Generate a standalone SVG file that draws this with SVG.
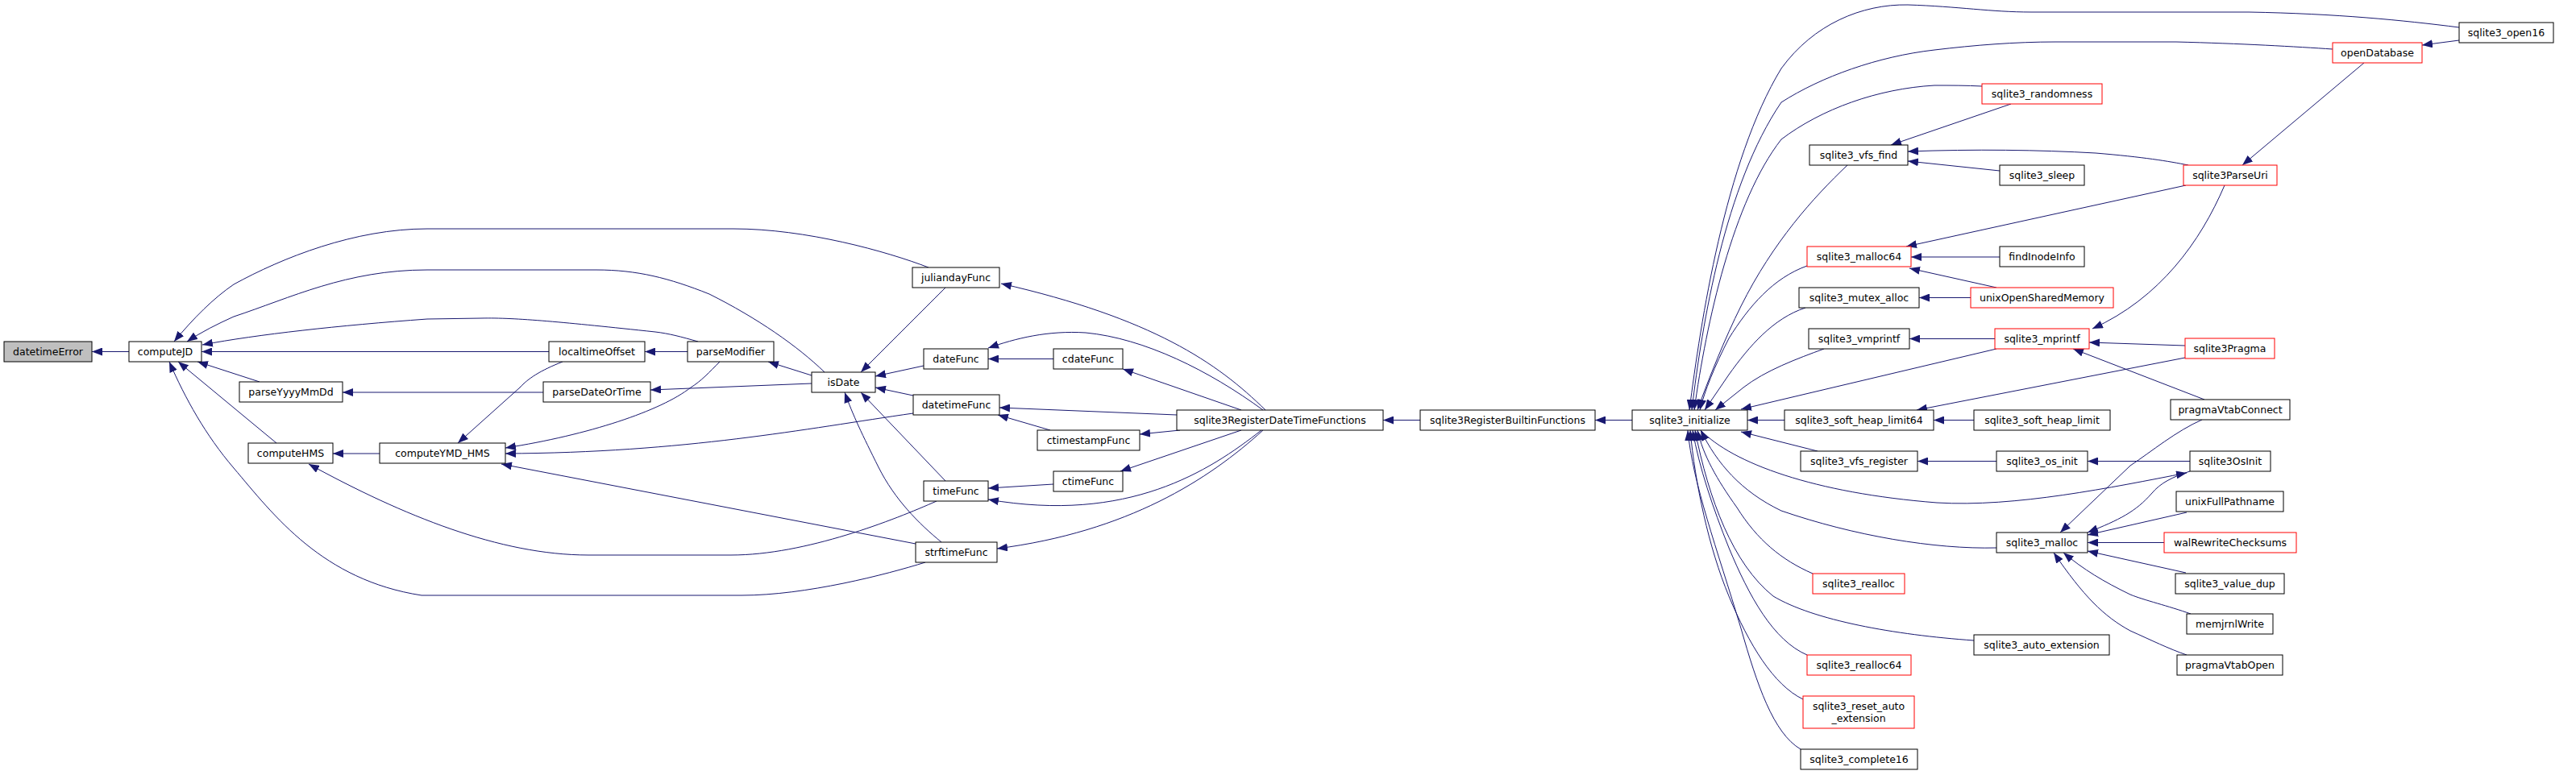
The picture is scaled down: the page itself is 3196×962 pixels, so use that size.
<svg xmlns="http://www.w3.org/2000/svg" width="3196" height="962" viewBox="0 0 3196 962">
<style>
.n rect{fill:#fff;stroke:#000;stroke-width:1}
.n.r rect{stroke:#ff0000}
.n.root rect{fill:#bfbfbf}
.n text{font-family:"DejaVu Sans",sans-serif;font-size:12.5px;fill:#000;text-anchor:middle}
#edges path{fill:none;stroke:#191970;stroke-width:1;marker-end:url(#ah)}
</style>
<defs>
<marker id="ah" markerUnits="userSpaceOnUse" markerWidth="13" markerHeight="10" refX="13" refY="5" orient="auto" viewBox="0 0 13 10"><path d="M0,0 L13,5 L0,10 z" fill="#191970"/></marker>
</defs>
<rect width="3196" height="962" fill="#fff"/>
<g id="edges">
<path d="M160,436.5 L114,436.5"/>
<path d="M1152,332 C1100,312 1000,284 910,284 L530,284 C440,284 350,320 290,353 C265,370 240,395 216,424"/>
<path d="M1023,462 C990,430 940,395 880,365 C830,345 790,335 740,335 L530,335 C430,335 360,370 290,393 C270,402 250,412 232,424"/>
<path d="M866,424 C845,418 830,414 813,412 C700,400 640,394 597,395 L530,396 C420,404 320,415 251,428"/>
<path d="M681,436.5 L250,436.5"/>
<path d="M322,474 L245,449"/>
<path d="M343,550 L221,449"/>
<path d="M1148,698 C1100,713 1000,739 920,739 L523,739 C400,720 340,640 290,581 C255,540 230,495 210,449"/>
<path d="M471,563 L413,563"/>
<path d="M1162,622 C1110,645 1000,689 907,689 L730,689 C620,689 500,640 383,576"/>
<path d="M698,449 C670,460 655,470 645,481 L568,550"/>
<path d="M893,449 C880,462 870,473 857,481 C820,510 730,540 627,556"/>
<path d="M1133,513 C1000,532 850,562 627,563"/>
<path d="M1136,675 L622,576"/>
<path d="M674,487 L425,487"/>
<path d="M853,436.5 L800,436.5"/>
<path d="M1007,466 L953,449"/>
<path d="M1007,476 L807,484"/>
<path d="M1173,357 L1068,462"/>
<path d="M1146,454 L1086,467"/>
<path d="M1133,491 L1086,481"/>
<path d="M1173,597 L1068,487"/>
<path d="M1168,673 C1140,650 1110,620 1090,580 C1070,540 1058,515 1048,487"/>
<path d="M1307,445.5 L1226,445.5"/>
<path d="M1567,509 C1500,460 1420,420 1347,413 C1300,410 1260,420 1226,432"/>
<path d="M1570,509 C1510,450 1430,395 1242,352"/>
<path d="M1540,509 L1393,458"/>
<path d="M1460,515 L1240,506"/>
<path d="M1303,534 L1238,515"/>
<path d="M1464,534 L1414,539"/>
<path d="M1540,534 L1390,585"/>
<path d="M1307,601 L1226,606"/>
<path d="M1565,534 C1500,585 1400,650 1226,620"/>
<path d="M1567,534 C1500,595 1400,660 1237,681"/>
<path d="M1762,521.5 L1716,521.5"/>
<path d="M2025,521.5 L1979,521.5"/>
<path d="M3051,34 C2980,25 2900,17 2790,15 L2520,15 C2470,15 2430,8 2367,6 C2310,5 2250,30 2210,85 C2140,200 2110,400 2096,509"/>
<path d="M2894,61 C2850,58 2780,54 2700,52 L2550,52 C2500,52 2450,56 2400,62 C2330,70 2260,95 2210,127 C2140,230 2112,400 2099,509"/>
<path d="M2459,107 C2440,106 2420,106 2400,106 C2330,110 2260,135 2210,173 C2150,250 2117,400 2102,509"/>
<path d="M2292,205 C2250,245 2200,300 2160,380 C2140,420 2120,470 2106,509"/>
<path d="M2242,330 C2200,345 2170,380 2145,420 C2127,455 2115,485 2109,509"/>
<path d="M2240,382 C2200,395 2170,430 2145,465 L2115,509"/>
<path d="M2263,433 C2230,445 2190,460 2163,481 L2128,509"/>
<path d="M2477,433 L2160,508"/>
<path d="M2214,521.5 L2168,521.5"/>
<path d="M2255,560 L2160,536"/>
<path d="M2477,680 C2400,682 2300,665 2210,634 C2160,610 2130,575 2110,534"/>
<path d="M2249,712 C2210,695 2180,670 2155,630 C2130,595 2113,565 2106,534"/>
<path d="M2449,795 C2350,788 2250,770 2200,740 C2150,700 2120,620 2103,534"/>
<path d="M2242,813 C2200,795 2170,740 2145,680 C2125,630 2108,580 2100,534"/>
<path d="M2237,868 C2200,850 2170,800 2145,740 C2120,680 2103,600 2097,534"/>
<path d="M2234,930 C2200,910 2180,850 2160,780 C2130,680 2100,600 2094,534"/>
<path d="M2110,534 C2150,575 2250,612 2403,624 C2500,630 2620,605 2713,587"/>
<path d="M2495,129 L2346,180"/>
<path d="M2715,205 C2690,200 2660,195 2600,190 C2530,186 2450,185 2367,188"/>
<path d="M2481,212 L2367,200"/>
<path d="M2712,230 L2365,306"/>
<path d="M2481,319 L2371,319"/>
<path d="M2477,357 L2369,333"/>
<path d="M2445,369.5 L2381,369.5"/>
<path d="M2475,420.5 L2369,420.5"/>
<path d="M2760,230 C2730,300 2680,370 2596,408"/>
<path d="M2711,429 L2592,425"/>
<path d="M2735,496 L2572,433"/>
<path d="M2711,444 L2378,509"/>
<path d="M2449,521.5 L2399,521.5"/>
<path d="M2477,572.5 L2379,572.5"/>
<path d="M2717,572.5 L2590,572.5"/>
<path d="M2933,78 L2782,205"/>
<path d="M3051,50 L3005,56"/>
<path d="M2717,585 C2695,592 2680,600 2670,612 C2650,635 2630,645 2590,661"/>
<path d="M2732,521 C2700,535 2670,560 2643,578 L2556,661"/>
<path d="M2713,636 L2590,664"/>
<path d="M2685,673.5 L2590,673.5"/>
<path d="M2712,711 L2590,684"/>
<path d="M2718,762 C2690,752 2660,745 2643,738 C2610,722 2585,707 2560,686"/>
<path d="M2713,813 C2690,805 2670,795 2643,783 C2610,765 2585,740 2548,686"/>
</g>
<g id="datetimeError" class="n root"><rect x="5" y="424" width="109" height="25"/><text x="59.5" y="441">datetimeError</text></g>
<g id="computeJD" class="n"><rect x="160" y="424" width="90" height="25"/><text x="205" y="441">computeJD</text></g>
<g id="parseYyyyMmDd" class="n"><rect x="297" y="474" width="128" height="25"/><text x="361" y="491">parseYyyyMmDd</text></g>
<g id="computeHMS" class="n"><rect x="308" y="550" width="105" height="25"/><text x="360.5" y="567">computeHMS</text></g>
<g id="computeYMD_HMS" class="n"><rect x="471" y="550" width="156" height="25"/><text x="549" y="567">computeYMD_HMS</text></g>
<g id="localtimeOffset" class="n"><rect x="681" y="424" width="119" height="25"/><text x="740.5" y="441">localtimeOffset</text></g>
<g id="parseDateOrTime" class="n"><rect x="674" y="474" width="133" height="25"/><text x="740.5" y="491">parseDateOrTime</text></g>
<g id="parseModifier" class="n"><rect x="853" y="424" width="107" height="25"/><text x="906.5" y="441">parseModifier</text></g>
<g id="isDate" class="n"><rect x="1007" y="462" width="79" height="25"/><text x="1046.5" y="479">isDate</text></g>
<g id="juliandayFunc" class="n"><rect x="1132" y="332" width="108" height="25"/><text x="1186" y="349">juliandayFunc</text></g>
<g id="dateFunc" class="n"><rect x="1146" y="433" width="80" height="25"/><text x="1186" y="450">dateFunc</text></g>
<g id="cdateFunc" class="n"><rect x="1307" y="433" width="86" height="25"/><text x="1350" y="450">cdateFunc</text></g>
<g id="datetimeFunc" class="n"><rect x="1133" y="490" width="107" height="25"/><text x="1186.5" y="507">datetimeFunc</text></g>
<g id="ctimestampFunc" class="n"><rect x="1287" y="534" width="127" height="25"/><text x="1350.5" y="551">ctimestampFunc</text></g>
<g id="ctimeFunc" class="n"><rect x="1307" y="585" width="86" height="25"/><text x="1350" y="602">ctimeFunc</text></g>
<g id="timeFunc" class="n"><rect x="1146" y="597" width="80" height="25"/><text x="1186" y="614">timeFunc</text></g>
<g id="strftimeFunc" class="n"><rect x="1136" y="673" width="101" height="25"/><text x="1186.5" y="690">strftimeFunc</text></g>
<g id="sqlite3RegisterDateTimeFunctions" class="n"><rect x="1460" y="509" width="256" height="25"/><text x="1588" y="526">sqlite3RegisterDateTimeFunctions</text></g>
<g id="sqlite3RegisterBuiltinFunctions" class="n"><rect x="1762" y="509" width="217" height="25"/><text x="1870.5" y="526">sqlite3RegisterBuiltinFunctions</text></g>
<g id="sqlite3_initialize" class="n"><rect x="2025" y="509" width="143" height="25"/><text x="2096.5" y="526">sqlite3_initialize</text></g>
<g id="sqlite3_randomness" class="n r"><rect x="2459" y="104" width="149" height="25"/><text x="2533.5" y="121">sqlite3_randomness</text></g>
<g id="sqlite3_vfs_find" class="n"><rect x="2245" y="180" width="122" height="25"/><text x="2306" y="197">sqlite3_vfs_find</text></g>
<g id="sqlite3_sleep" class="n"><rect x="2481" y="205" width="105" height="25"/><text x="2533.5" y="222">sqlite3_sleep</text></g>
<g id="sqlite3_malloc64" class="n r"><rect x="2242" y="306" width="129" height="25"/><text x="2306.5" y="323">sqlite3_malloc64</text></g>
<g id="findInodeInfo" class="n"><rect x="2481" y="306" width="105" height="25"/><text x="2533.5" y="323">findInodeInfo</text></g>
<g id="sqlite3_mutex_alloc" class="n"><rect x="2232" y="357" width="149" height="25"/><text x="2306.5" y="374">sqlite3_mutex_alloc</text></g>
<g id="unixOpenSharedMemory" class="n r"><rect x="2445" y="357" width="177" height="25"/><text x="2533.5" y="374">unixOpenSharedMemory</text></g>
<g id="sqlite3_vmprintf" class="n"><rect x="2244" y="408" width="125" height="25"/><text x="2306.5" y="425">sqlite3_vmprintf</text></g>
<g id="sqlite3_mprintf" class="n r"><rect x="2475" y="408" width="117" height="25"/><text x="2533.5" y="425">sqlite3_mprintf</text></g>
<g id="sqlite3_soft_heap_limit64" class="n"><rect x="2214" y="509" width="185" height="25"/><text x="2306.5" y="526">sqlite3_soft_heap_limit64</text></g>
<g id="sqlite3_soft_heap_limit" class="n"><rect x="2449" y="509" width="169" height="25"/><text x="2533.5" y="526">sqlite3_soft_heap_limit</text></g>
<g id="sqlite3_vfs_register" class="n"><rect x="2234" y="560" width="145" height="25"/><text x="2306.5" y="577">sqlite3_vfs_register</text></g>
<g id="sqlite3_os_init" class="n"><rect x="2477" y="560" width="113" height="25"/><text x="2533.5" y="577">sqlite3_os_init</text></g>
<g id="sqlite3_malloc" class="n"><rect x="2477" y="661" width="113" height="25"/><text x="2533.5" y="678">sqlite3_malloc</text></g>
<g id="sqlite3_realloc" class="n r"><rect x="2249" y="712" width="114" height="25"/><text x="2306" y="729">sqlite3_realloc</text></g>
<g id="sqlite3_auto_extension" class="n"><rect x="2449" y="788" width="168" height="25"/><text x="2533" y="805">sqlite3_auto_extension</text></g>
<g id="sqlite3_realloc64" class="n r"><rect x="2242" y="813" width="129" height="25"/><text x="2306.5" y="830">sqlite3_realloc64</text></g>
<g id="sqlite3_reset_auto_extension" class="n r"><rect x="2237" y="864" width="138" height="40"/><text x="2306" y="881">sqlite3_reset_auto</text><text x="2306" y="896">_extension</text></g>
<g id="sqlite3_complete16" class="n"><rect x="2234" y="930" width="145" height="25"/><text x="2306.5" y="947">sqlite3_complete16</text></g>
<g id="sqlite3_open16" class="n"><rect x="3051" y="28" width="117" height="25"/><text x="3109.5" y="45">sqlite3_open16</text></g>
<g id="openDatabase" class="n r"><rect x="2894" y="53" width="111" height="25"/><text x="2949.5" y="70">openDatabase</text></g>
<g id="sqlite3ParseUri" class="n r"><rect x="2709" y="205" width="116" height="25"/><text x="2767" y="222">sqlite3ParseUri</text></g>
<g id="sqlite3Pragma" class="n r"><rect x="2711" y="420" width="111" height="25"/><text x="2766.5" y="437">sqlite3Pragma</text></g>
<g id="pragmaVtabConnect" class="n"><rect x="2693" y="496" width="148" height="25"/><text x="2767" y="513">pragmaVtabConnect</text></g>
<g id="sqlite3OsInit" class="n"><rect x="2717" y="560" width="100" height="25"/><text x="2767" y="577">sqlite3OsInit</text></g>
<g id="unixFullPathname" class="n"><rect x="2700" y="610" width="133" height="25"/><text x="2766.5" y="627">unixFullPathname</text></g>
<g id="walRewriteChecksums" class="n r"><rect x="2685" y="661" width="164" height="25"/><text x="2767" y="678">walRewriteChecksums</text></g>
<g id="sqlite3_value_dup" class="n"><rect x="2699" y="712" width="135" height="25"/><text x="2766.5" y="729">sqlite3_value_dup</text></g>
<g id="memjrnlWrite" class="n"><rect x="2713" y="762" width="107" height="25"/><text x="2766.5" y="779">memjrnlWrite</text></g>
<g id="pragmaVtabOpen" class="n"><rect x="2701" y="813" width="131" height="25"/><text x="2766.5" y="830">pragmaVtabOpen</text></g>
</svg>
